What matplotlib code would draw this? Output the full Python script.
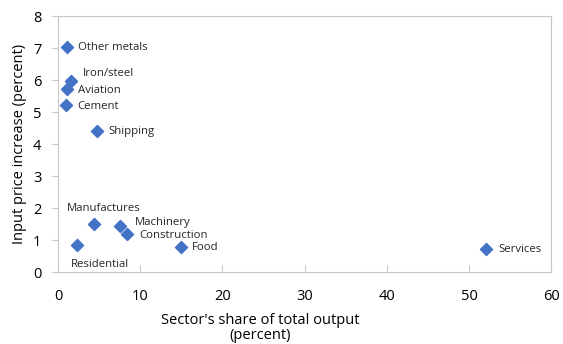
import matplotlib.pyplot as plt

plt.rcParams['font.family'] = ['Open Sans', 'DejaVu Sans']

# sectors, share of output (x) and input price increase (y)
sectors = ["Other metals", "Iron/steel", "Aviation", "Cement", "Shipping",
           "Manufactures", "Machinery", "Construction", "Food",
           "Residential", "Services"]
share = [1.1, 1.6, 1.1, 1.0, 4.7, 4.4, 7.5, 8.4, 15.0, 2.3, 52.1]
price_increase = [7.03, 5.97, 5.72, 5.22, 4.41, 1.50, 1.44, 1.19, 0.78, 0.84, 0.72]

# label offsets in pixels
offsets = [(11, 0), (12, 8), (11, -1), (11, -1), (12, 0),
           (-27, 16), (15, 4), (12, -1), (11, 0), (-6, -19), (12, 0)]

fig = plt.figure(figsize=(5.63, 3.44), dpi=100)
ax = fig.add_axes([0.103, 0.209, 0.876, 0.744])

ax.scatter(share, price_increase, marker='D', s=38, color='#4472C4', zorder=3)

for name, x, y, off in zip(sectors, share, price_increase, offsets):
    ax.annotate(name, (x, y), xytext=off, textcoords='offset pixels',
                fontsize=8.2, va='center', ha='left', color='#262626')

ax.set_xlim(0, 60)
ax.set_ylim(0, 8)
ax.set_xticks(range(0, 61, 10))
ax.set_yticks(range(0, 9))
for s in ax.spines.values():
    s.set_color('#c8c8c8')
ax.tick_params(axis='x', direction='in', length=5, color='#c8c8c8', labelsize=10.5, pad=12)
ax.tick_params(axis='y', direction='out', length=4, color='#c8c8c8', labelsize=10.5, pad=8)

ax.set_xlabel("Sector's share of total output\n(percent)", fontsize=10.5, linespacing=1.05)
ax.xaxis.set_label_coords(0.41, -0.158)
ax.set_ylabel("Input price increase (percent)", fontsize=10.5)

plt.savefig('out.png', dpi=100)
